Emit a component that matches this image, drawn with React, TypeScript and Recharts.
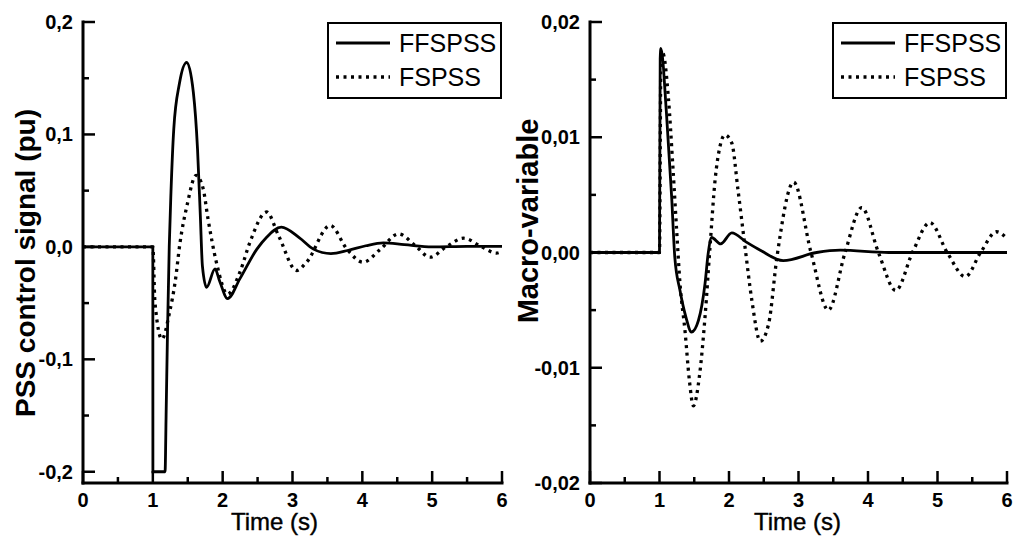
import React from "react";
import { LineChart, Line, XAxis, YAxis, Legend } from "recharts";

const FONT = "'Liberation Sans', Arial, Helvetica, sans-serif";

// tick positions (major + minor)
const timeTicks = [0, 0.5, 1, 1.5, 2, 2.5, 3, 3.5, 4, 4.5, 5, 5.5, 6];
const pssTicks = [-0.2, -0.15, -0.1, -0.05, 0, 0.05, 0.1, 0.15, 0.2];
const macroTicks = [-0.02, -0.015, -0.01, -0.005, 0, 0.005, 0.01, 0.015, 0.02];

// left panel: PSS control signal, FFSPSS
const pssFfTime = [0, 1, 1.001, 1.175, 1.19, 1.21, 1.235, 1.26, 1.3, 1.38, 1.485, 1.58, 1.64, 1.68, 1.71, 1.77, 1.89, 1.96, 2.07, 2.25, 2.49, 2.63, 2.84, 3.1, 3.3, 3.55, 3.8, 4.05, 4.3, 4.6, 5.0, 5.5, 6];
const pssFfValue = [0, 0, -0.2, -0.2, -0.15, -0.076, 0, 0.049, 0.105, 0.145, 0.164, 0.1375, 0.087, 0.028, -0.017, -0.036, -0.0196, -0.031, -0.046, -0.028, -0.002, 0.0086, 0.0175, 0.008, -0.002, -0.006, -0.003, 0.001, 0.0035, 0.002, 0, 0.0005, 0.0005];

// left panel: PSS control signal, FSPSS
const pssFsTime = [0, 1, 1.03, 1.13, 1.24, 1.32, 1.39, 1.49, 1.62, 1.72, 1.79, 1.91, 2.07, 2.25, 2.39, 2.63, 2.8, 3.06, 3.2, 3.54, 3.78, 4.01, 4.26, 4.52, 4.76, 4.97, 5.2, 5.45, 5.71, 5.92, 6];
const pssFsValue = [0, 0, -0.049, -0.082, -0.058, -0.031, 0.004, 0.037, 0.0636, 0.052, 0.025, -0.0137, -0.042, -0.022, 0.004, 0.031, 0.01, -0.021, -0.0137, 0.019, -0.002, -0.0137, -0.002, 0.0116, 0.001, -0.0092, 0, 0.0077, 0, -0.0055, -0.004];

// right panel: macro-variable, FFSPSS
const macroFfTime = [0, 1, 1.01, 1.02, 1.1, 1.175, 1.22, 1.295, 1.38, 1.46, 1.56, 1.655, 1.7, 1.75, 1.88, 2.04, 2.25, 2.45, 2.78, 3.26, 3.6, 4.3, 6];
const macroFfValue = [0, 0, 0.0168, 0.0177, 0.0121, 0.0048, -0.0004, -0.0033, -0.0056, -0.0069, -0.0059, -0.0027, -0.0001, 0.0013, 0.00075, 0.0017, 0.0009, 0.0002, -0.0007, 0, 0.0002, 0, 0];

// right panel: macro-variable, FSPSS
const macroFsTime = [0, 1, 1.02, 1.046, 1.127, 1.19, 1.247, 1.295, 1.367, 1.43, 1.487, 1.573, 1.655, 1.727, 1.8, 1.87, 1.94, 2.04, 2.13, 2.23, 2.33, 2.45, 2.57, 2.69, 2.93, 3.18, 3.43, 3.67, 3.91, 4.15, 4.4, 4.64, 4.89, 5.14, 5.4, 5.62, 5.85, 6];
const macroFsValue = [0, 0, 0.0165, 0.0173, 0.0135, 0.0077, 0.0019, -0.0027, -0.0068, -0.0111, -0.0133, -0.0108, -0.0056, 0.0005, 0.0063, 0.0092, 0.0102, 0.0095, 0.0054, 0.0005, -0.0042, -0.0077, -0.0062, -0.0004, 0.0061, 0, -0.005, 0, 0.0039, 0, -0.0033, 0, 0.0026, 0, -0.0021, 0, 0.0018, 0.0012];

const toPoints = (t: number[], v: number[]) => t.map((x, i) => ({ t: x, v: v[i] }));

const DOTTED = "3 4.5";
const SOLID_W = 2.8;
const DOT_W = 3.3;

function fmt(v: number, decimals: number) {
  const s = Math.abs(v) < 1e-12 ? (0).toFixed(decimals) : v.toFixed(decimals);
  return s.replace(".", ",");
}

function makeTick(side: string, step: number, decimals: number) {
  return (props: any) => {
    const { x, y, payload } = props;
    const val = payload.value;
    const major = Math.abs(val / step - Math.round(val / step)) < 1e-6;
    const label = fmt(val, decimals);
    const txt = { fontFamily: FONT, fontSize: 20, fontWeight: 700, fill: "#000" };
    if (side === "bottom") {
      return (
        <g>
          <line x1={x} x2={x} y1={y} y2={y - (major ? 12 : 6)} stroke="#000" strokeWidth={2.5} />
          {major && (
            <text x={x} y={y + 24} textAnchor="middle" style={txt}>
              {label}
            </text>
          )}
        </g>
      );
    }
    if (side === "left") {
      return (
        <g>
          <line x1={x} x2={x + (major ? 12 : 6)} y1={y} y2={y} stroke="#000" strokeWidth={2.5} />
          {major && (
            <text x={x - 10} y={y + 7} textAnchor="end" style={txt}>
              {label}
            </text>
          )}
        </g>
      );
    }
    if (side === "top") {
      return <line x1={x} x2={x} y1={y} y2={y + 4} stroke="#000" strokeWidth={2} />;
    }
    return <line x1={x} x2={x - 4} y1={y} y2={y} stroke="#000" strokeWidth={2} />;
  };
}

function LegendBox() {
  const rows = [
    { name: "FFSPSS", dash: undefined as string | undefined },
    { name: "FSPSS", dash: DOTTED },
  ];
  return (
    <div
      style={{
        border: "2px solid #000",
        background: "#fff",
        width: 171,
        height: 71,
        paddingTop: 2,
        boxSizing: "content-box",
      }}
    >
      {rows.map((r) => (
        <div key={r.name} style={{ display: "flex", alignItems: "center", height: 34 }}>
          <svg width={70} height={34} style={{ display: "block" }}>
            <line
              x1={7}
              x2={61}
              y1={17}
              y2={17}
              stroke="#000"
              strokeWidth={r.dash ? DOT_W : SOLID_W}
              strokeDasharray={r.dash}
            />
          </svg>
          <span style={{ fontFamily: FONT, fontSize: 25, color: "#000", lineHeight: "34px" }}>{r.name}</span>
        </div>
      ))}
    </div>
  );
}

interface PanelProps {
  left: number;
  width: number;
  rightMargin: number;
  domain: [number, number];
  yTicks: number[];
  yStep: number;
  yDecimals: number;
  yLabel: string;
  yLabelX: number;
  yLabelY: number;
  yLabelSize: number;
  xLabelDx: number;
  solid: { t: number; v: number }[];
  dotted: { t: number; v: number }[];
}

function Panel(p: PanelProps) {
  const axisLine = { stroke: "#000", strokeWidth: 3, strokeLinecap: "square" as const };
  return (
    <div style={{ position: "absolute", left: p.left, top: 0 }}>
      <LineChart width={p.width} height={544} margin={{ top: 22, right: p.rightMargin, bottom: 0, left: 0 }}>
        <XAxis
          xAxisId="b"
          dataKey="t"
          type="number"
          domain={[0, 6]}
          ticks={timeTicks}
          interval={0}
          height={61}
          tickSize={0}
          tickMargin={0}
          tickLine={false}
          axisLine={axisLine}
          tick={makeTick("bottom", 1, 0)}
          label={{
            value: "Time (s)",
            position: "insideBottom",
            offset: 14,
            dx: p.xLabelDx,
            style: { fontFamily: FONT, fontSize: 24, fill: "#000", stroke: "#000", strokeWidth: 0.4 },
          }}
        />
        <XAxis
          xAxisId="t"
          orientation="top"
          dataKey="t"
          type="number"
          domain={[0, 6]}
          ticks={timeTicks}
          interval={0}
          height={0}
          tickSize={0}
          tickMargin={0}
          tickLine={false}
          axisLine={axisLine}
          tick={makeTick("top", 1, 0)}
        />
        <YAxis
          yAxisId="l"
          type="number"
          domain={p.domain}
          ticks={p.yTicks}
          interval={0}
          width={83}
          tickSize={0}
          tickMargin={0}
          tickLine={false}
          axisLine={axisLine}
          allowDataOverflow
          tick={makeTick("left", p.yStep, p.yDecimals)}
          label={() => (
            <text
              x={p.yLabelX}
              y={p.yLabelY}
              transform={`rotate(-90, ${p.yLabelX}, ${p.yLabelY})`}
              textAnchor="middle"
              dominantBaseline="central"
              style={{ fontFamily: FONT, fontSize: p.yLabelSize, fontWeight: 700, fill: "#000" }}
            >
              {p.yLabel}
            </text>
          )}
        />
        <YAxis
          yAxisId="r"
          orientation="right"
          type="number"
          domain={p.domain}
          ticks={p.yTicks}
          interval={0}
          width={0}
          tickSize={0}
          tickMargin={0}
          tickLine={false}
          axisLine={axisLine}
          allowDataOverflow
          tick={makeTick("right", p.yStep, p.yDecimals)}
        />
        <Legend
          layout="horizontal"
          verticalAlign="middle"
          align="center"
          wrapperStyle={{ position: "absolute", left: p.width - p.rightMargin - 175, top: 22, width: 175 }}
          content={() => <LegendBox />}
        />
        <Line
          xAxisId="b"
          yAxisId="l"
          name="FFSPSS"
          data={p.solid}
          dataKey="v"
          type="monotone"
          stroke="#000"
          strokeWidth={SOLID_W}
          dot={false}
          activeDot={false}
          isAnimationActive={false}
        />
        <Line
          xAxisId="b"
          yAxisId="l"
          name="FSPSS"
          data={p.dotted}
          dataKey="v"
          type="monotone"
          stroke="#000"
          strokeWidth={DOT_W}
          strokeDasharray={DOTTED}
          dot={false}
          activeDot={false}
          isAnimationActive={false}
        />
      </LineChart>
    </div>
  );
}

export default function App() {
  return (
    <div style={{ position: "absolute", left: 0, top: 0, width: 1016, height: 544, background: "#fff" }}>
      <Panel
        left={0}
        width={515}
        rightMargin={13}
        domain={[-0.21, 0.2]}
        yTicks={pssTicks}
        yStep={0.1}
        yDecimals={1}
        yLabel="PSS control signal (pu)"
        yLabelX={25}
        yLabelY={263}
        yLabelSize={28}
        xLabelDx={-18}
        solid={toPoints(pssFfTime, pssFfValue)}
        dotted={toPoints(pssFsTime, pssFsValue)}
      />
      <Panel
        left={507}
        width={509}
        rightMargin={9}
        domain={[-0.02, 0.02]}
        yTicks={macroTicks}
        yStep={0.01}
        yDecimals={2}
        yLabel="Macro-variable"
        yLabelX={21}
        yLabelY={221}
        yLabelSize={29}
        xLabelDx={-1}
        solid={toPoints(macroFfTime, macroFfValue)}
        dotted={toPoints(macroFsTime, macroFsValue)}
      />
    </div>
  );
}
